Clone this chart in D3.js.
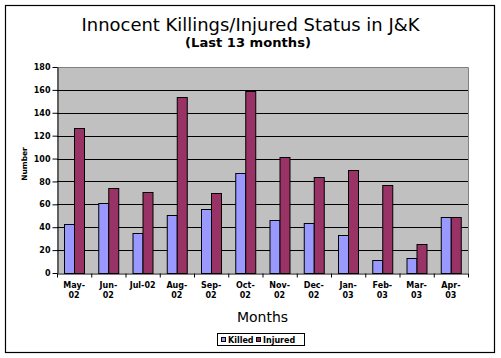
<!DOCTYPE html>
<html><head><meta charset="utf-8">
<script src="https://cdn.jsdelivr.net/npm/d3@7"></script>
<style>body{margin:0;background:#fff}svg{display:block}</style>
</head><body>
<svg id="c" width="501" height="358"></svg>
<script>
const months = ["May-02","Jun-02","Jul-02","Aug-02","Sep-02","Oct-02","Nov-02","Dec-02","Jan-03","Feb-03","Mar-03","Apr-03"];
const monthLabelLines = [["May-","02"],["Jun-","02"],["Jul-02"],["Aug-","02"],["Sep-","02"],["Oct-","02"],["Nov-","02"],["Dec-","02"],["Jan-","03"],["Feb-","03"],["Mar-","03"],["Apr-","03"]];
const killed  = [43, 61, 35, 51, 56, 87, 46, 44, 33, 11, 13, 49];
const injured = [127, 74, 71, 154, 70, 159, 101, 84, 90, 77, 25, 49];
const seriesNames = ["Killed","Injured"];
const yTicks = [0,20,40,60,80,100,120,140,160,180];
const colors = {Killed:"#9999FF", Injured:"#993366"};

const svg = d3.select("#c");
const L = 57, R = 468, T = 67, B = 273;
const smallFont = "'DejaVu Sans', Verdana, sans-serif";

svg.append("rect").attr("x",5.5).attr("y",5.5).attr("width",489).attr("height",347)
  .attr("fill","#fff").attr("stroke","#000").attr("stroke-width",1.2);

function fit(sel, w){ let fs = +sel.attr("font-size"); const cl = sel.node().getComputedTextLength(); sel.attr("font-size", fs*w/cl); }
const t1 = svg.append("text").attr("x",250.5).attr("y",31).attr("text-anchor","middle")
  .attr("font-family","'DejaVu Sans', Verdana, sans-serif").attr("font-size",17).attr("fill","#000")
  .text("Innocent Killings/Injured Status in J&K");
fit(t1, 338);
const t2 = svg.append("text").attr("x",248).attr("y",47).attr("text-anchor","middle")
  .attr("font-family","'DejaVu Sans', Verdana, sans-serif").attr("font-weight","bold").attr("font-size",12).attr("fill","#000")
  .text("(Last 13 months)");
fit(t2, 126);

const y = d3.scaleLinear().domain([0,180]).range([B,T]);
const x0 = d3.scaleBand().domain(months).range([L,R]).padding(0);
const x1 = d3.scaleBand().domain(seriesNames).range([0,x0.bandwidth()]).paddingInner(0).paddingOuter(0.75);

svg.append("rect").attr("x",L).attr("y",T).attr("width",R-L).attr("height",B-T).attr("fill","#C0C0C0");
svg.append("g").selectAll("line").data(yTicks.filter(v=>v>0 && v<180)).join("line")
  .attr("x1",L).attr("x2",R).attr("y1",d=>Math.round(y(d))+0.5).attr("y2",d=>Math.round(y(d))+0.5)
  .attr("stroke","#000").attr("stroke-width",1);
svg.append("path").attr("d",`M${L},${T+0.5}H${R+0.5}V${B}`).attr("fill","none").attr("stroke","#808080").attr("stroke-width",1);

const groups = svg.append("g").selectAll("g").data(months).join("g")
  .attr("transform",d=>`translate(${x0(d)},0)`);
groups.selectAll("rect").data((d,i)=>[{s:"Killed",v:killed[i]},{s:"Injured",v:injured[i]}]).join("rect")
  .attr("x",d=>Math.round(x1(d.s))+0.5).attr("width",Math.round(x1.bandwidth()))
  .attr("y",d=>Math.round(y(d.v))+0.5).attr("height",d=>Math.round(y(0))-Math.round(y(d.v)))
  .attr("fill",d=>colors[d.s]).attr("stroke","#000").attr("stroke-width",1);

const yAxis = svg.append("g").attr("transform",`translate(${L+0.5},0)`)
  .call(d3.axisLeft(y).tickValues(yTicks).tickSize(5).tickPadding(2).tickSizeOuter(0));
yAxis.select(".domain").attr("stroke","#000");
yAxis.selectAll("line").attr("stroke","#000");
yAxis.selectAll("text").attr("font-family",smallFont).attr("font-weight","bold").attr("font-size",8).attr("fill","#000");

const xi = d3.scaleLinear().domain([0,months.length]).range([L,R]);
const xAxis = svg.append("g").attr("transform",`translate(0,${B+0.5})`)
  .call(d3.axisBottom(xi).tickValues(d3.range(0,months.length+1)).tickSize(4).tickFormat("").tickSizeOuter(0));
xAxis.select(".domain").attr("stroke","#000");
xAxis.selectAll("line").attr("stroke","#000");

const xl = svg.append("g").selectAll("text").data(months).join("text")
  .attr("x",d=>x0(d)+x0.bandwidth()/2).attr("y",288).attr("text-anchor","middle")
  .attr("font-family",smallFont).attr("font-weight","bold").attr("font-size",8).attr("fill","#000");
xl.selectAll("tspan").data((d,i)=>monthLabelLines[i]).join("tspan")
  .attr("x",function(){return this.parentNode.getAttribute("x");})
  .attr("dy",(d,i)=>i===0?0:10).text(d=>d);

svg.append("text").attr("x",(L+R)/2).attr("y",322).attr("text-anchor","middle")
  .attr("font-family","'DejaVu Sans', Verdana, sans-serif").attr("font-size",14).attr("fill","#000").text("Months");
svg.append("text").attr("transform","translate(27,164) rotate(-90)").attr("text-anchor","middle")
  .attr("font-family",smallFont).attr("font-weight","bold").attr("font-size",7.5).attr("fill","#000").text("Number");

const lg = svg.append("g");
lg.append("rect").attr("x",217.5).attr("y",333.5).attr("width",87).attr("height",12).attr("fill","#fff").attr("stroke","#000");
const items = lg.selectAll("g").data(seriesNames).join("g")
  .attr("transform",(d,i)=>`translate(${i===0?221:256},0)`);
items.append("rect").attr("x",0.5).attr("y",337.5).attr("width",4).attr("height",4).attr("fill",d=>colors[d]).attr("stroke","#000");
items.append("text").attr("x",7).attr("y",343).attr("font-family",smallFont).attr("font-weight","bold").attr("font-size",8).attr("fill","#000").text(d=>d);
</script>
</body></html>
